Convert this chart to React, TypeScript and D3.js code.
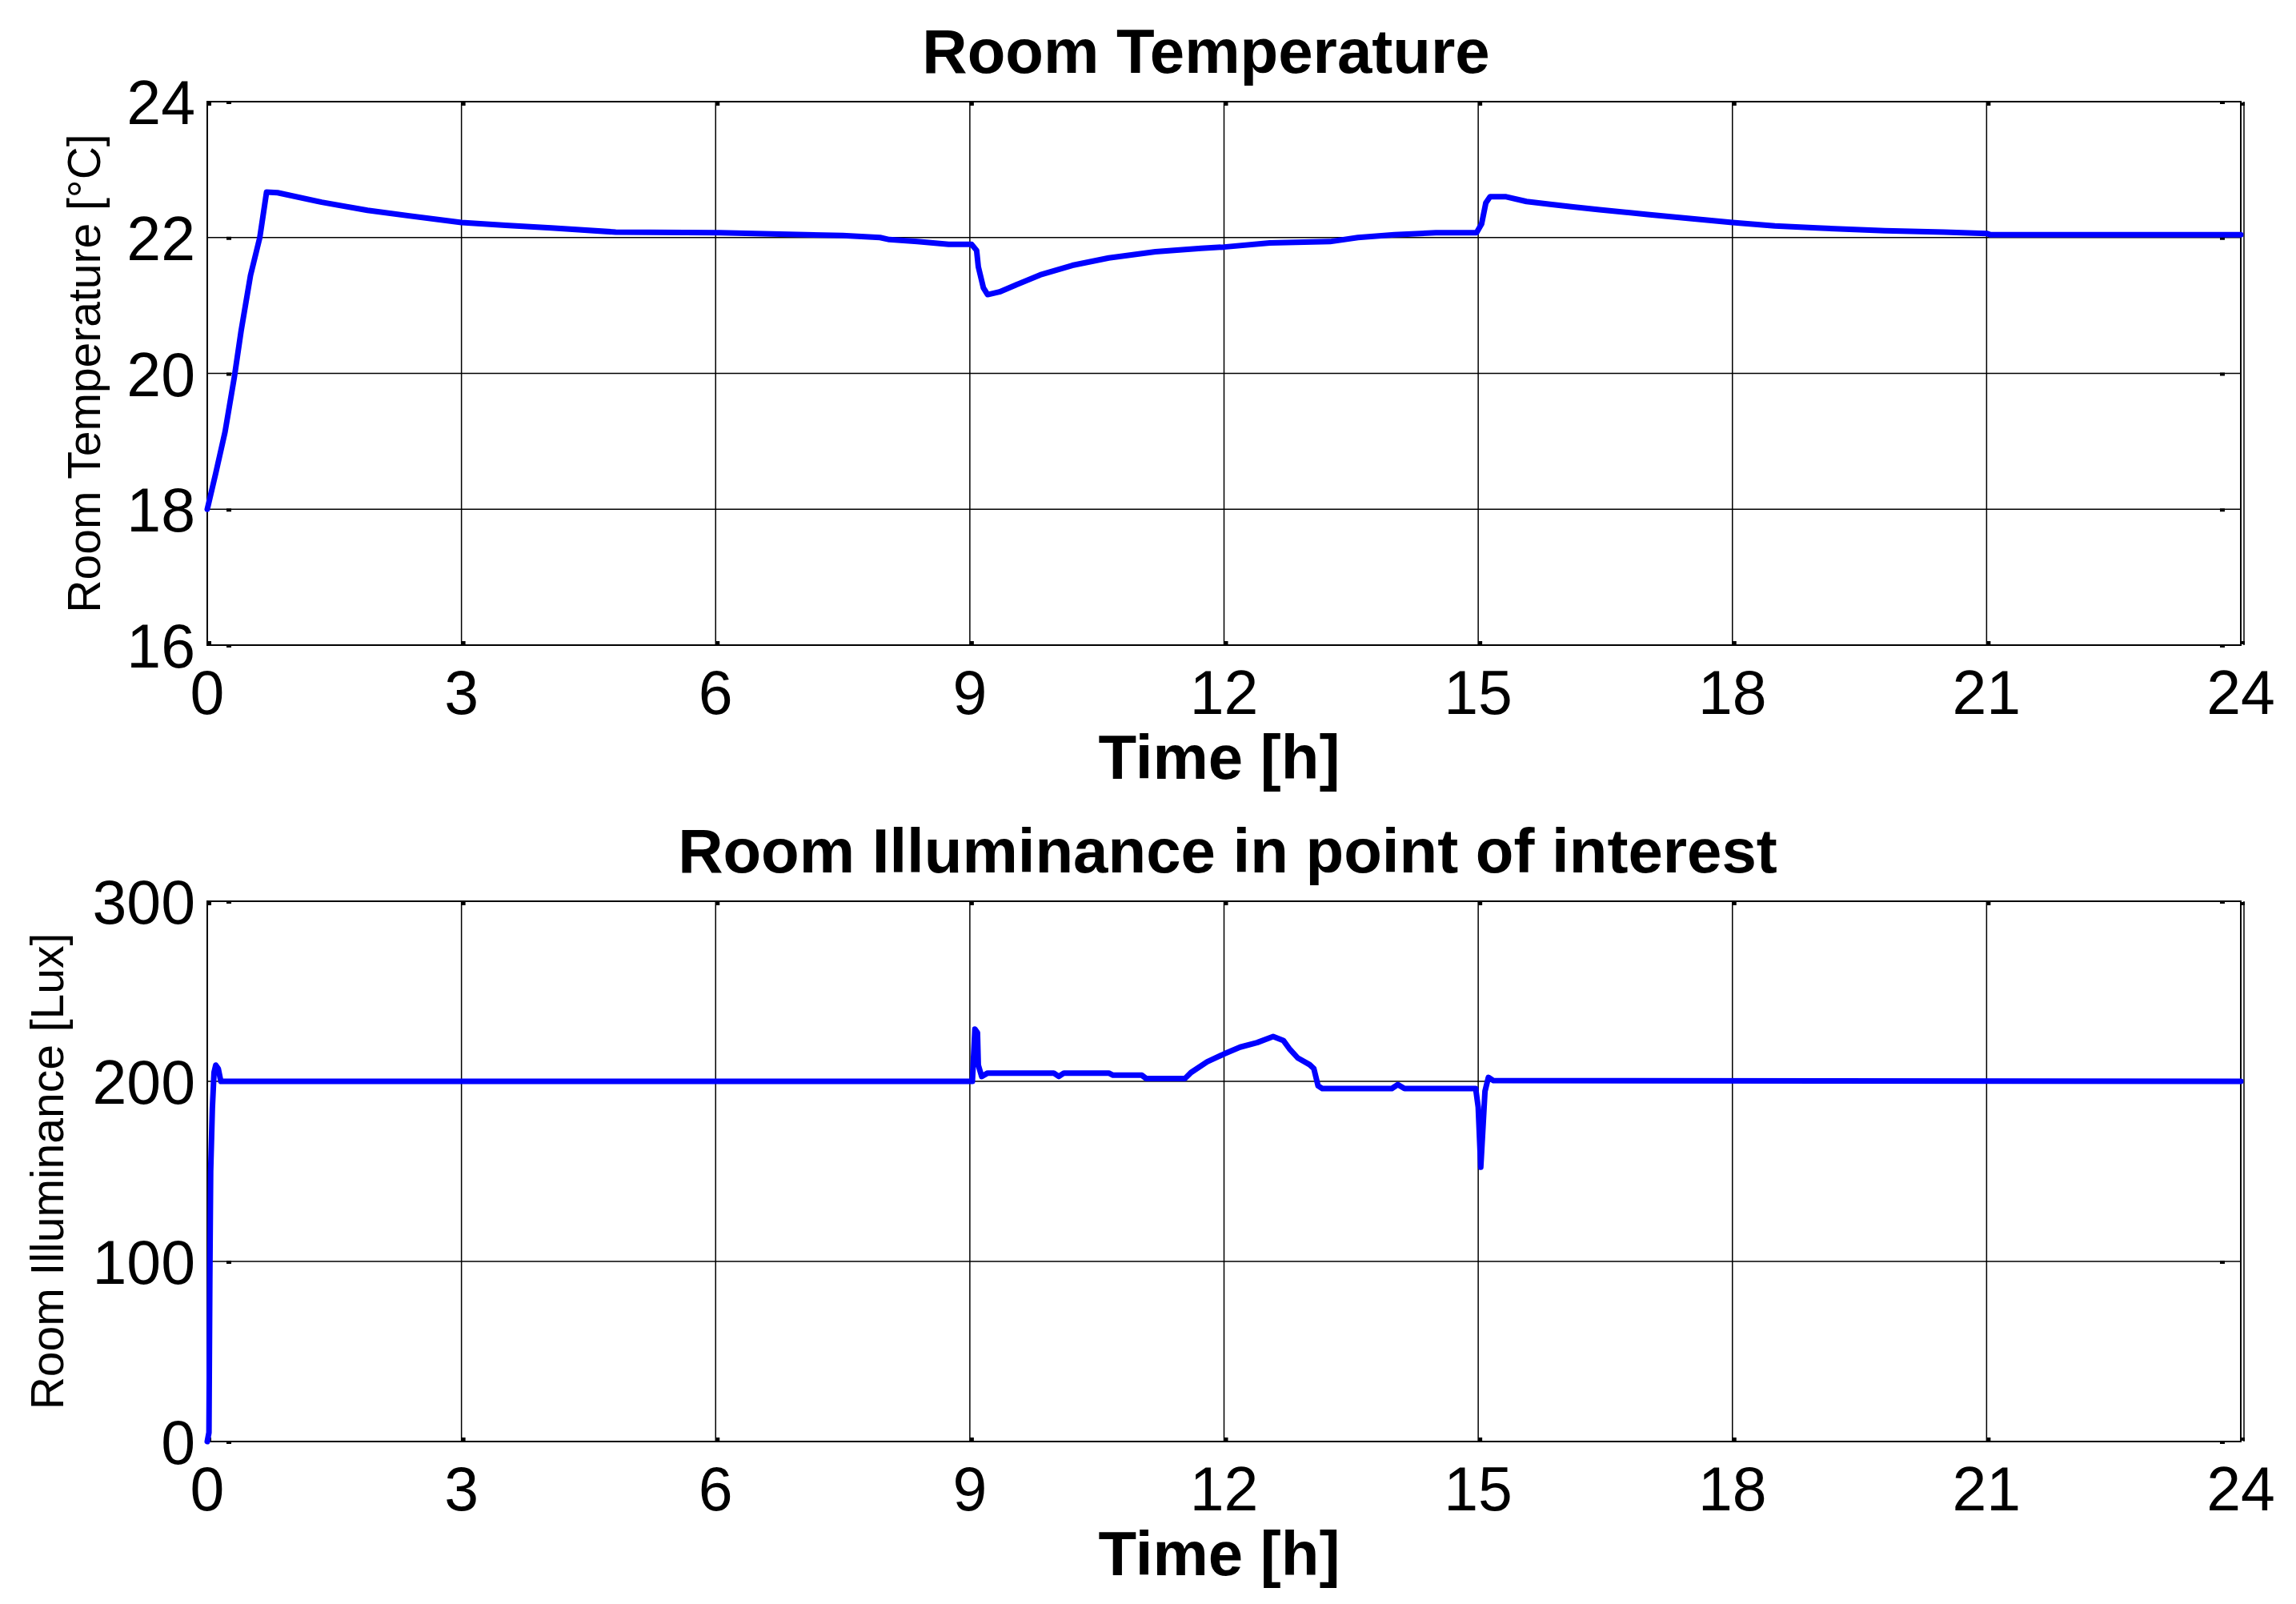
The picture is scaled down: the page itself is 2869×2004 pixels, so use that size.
import React from 'react';
import * as d3 from 'd3';

const W = 2869;
const H = 2004;

const hourTicks = [0, 3, 6, 9, 12, 15, 18, 21, 24];
const tempTicks = [16, 18, 20, 22, 24];
const luxTicks = [0, 100, 200, 300];

// room temperature trace [°C]
const tempTime = [0, 0.10, 0.21, 0.32, 0.40, 0.51, 0.62, 0.70, 0.83, 1.35, 1.89, 3.0, 3.52, 4.06, 4.82, 6.05, 7.5, 7.94,
  8.05, 8.38, 8.75, 9.02, 9.08, 9.10, 9.16, 9.21, 9.35, 9.56, 9.83, 10.21, 10.64, 11.19, 11.73, 12.0, 12.54, 13.25,
  13.58, 14.01, 14.5, 14.98, 15.04, 15.09, 15.14, 15.33, 15.57, 15.85, 16.12, 16.43, 17.0, 17.5, 18.0, 18.5, 19.0, 19.8,
  20.5, 21.0, 21.05, 24];
const tempValue = [18.0, 18.53, 19.14, 19.95, 20.63, 21.44, 22.0, 22.67, 22.66, 22.52, 22.40, 22.22, 22.18, 22.14, 22.08, 22.07, 22.03, 22.0,
  21.97, 21.94, 21.90, 21.90, 21.81, 21.57, 21.26, 21.16, 21.20, 21.31, 21.45, 21.59, 21.70, 21.79, 21.84, 21.86, 21.92, 21.94,
  22.0, 22.04, 22.07, 22.07, 22.2, 22.51, 22.60, 22.60, 22.53, 22.49, 22.45, 22.41, 22.34, 22.28, 22.22, 22.17, 22.14, 22.10,
  22.08, 22.06, 22.04, 22.04];

// illuminance in point of interest [Lux]
const luxTime = [0, 0.02, 0.03, 0.04, 0.06, 0.08, 0.10, 0.13, 0.16, 9.0, 9.03, 9.06, 9.09, 9.10, 9.14, 9.21, 9.99, 10.05,
  10.11, 10.64, 10.69, 11.03, 11.08, 11.54, 11.61, 11.8, 12.0, 12.19, 12.39, 12.58, 12.70, 12.77, 12.87, 13.01, 13.06, 13.11,
  13.16, 13.98, 14.05, 14.13, 14.97, 15.0, 15.03, 15.08, 15.12, 15.18, 24];
const luxValue = [0, 5, 90, 150, 185, 205, 209, 207, 200, 200, 200, 229, 227, 209, 202.7, 204.6, 204.6, 202.7,
  204.6, 204.6, 203.4, 203.4, 201.6, 201.6, 204.9, 210.8, 215.2, 219, 221.5, 224.9, 222.7, 218.2, 213, 209.3, 207.1, 197.5,
  196, 196, 198.2, 196, 196, 185.6, 152.3, 194.5, 202.2, 200.4, 200];

const font = 'Liberation Sans, Arial, sans-serif';

type PanelProps = {
  top: number;
  bottom: number;
  title: string;
  titleX: number;
  ylabel: string;
  ylabelX: number;
  yDomain: [number, number];
  yTicks: number[];
  xs: number[];
  ys: number[];
};

const left = 259;
const right = 2800;

function Panel(props: PanelProps) {
  const { top, bottom } = props;
  const x = d3.scaleLinear().domain([0, 24]).range([left, right]);
  const y = d3.scaleLinear().domain(props.yDomain).range([bottom, top]);
  const pts = props.xs.map((t, i) => [t, props.ys[i]] as [number, number]);
  const line = d3.line<[number, number]>()
    .x(d => x(d[0]))
    .y(d => y(d[1]));
  const midY = (top + bottom) / 2;

  return (
    <g>
      {/* grid */}
      {hourTicks.map(t => (
        <line key={'gx' + t} x1={x(t)} x2={x(t)} y1={top} y2={bottom} stroke="#000" strokeWidth={1.5} />
      ))}
      {props.yTicks.map(v => (
        <line key={'gy' + v} x1={left} x2={right} y1={y(v)} y2={y(v)} stroke="#000" strokeWidth={1.5} />
      ))}
      {/* small tick marks */}
      {hourTicks.map(t => (
        <g key={'tx' + t}>
          <rect x={x(t)} y={top + 1} width={5} height={4} fill="#000" />
          <rect x={x(t)} y={bottom - 5} width={5} height={4} fill="#000" />
        </g>
      ))}
      {props.yTicks.map(v => (
        <g key={'ty' + v}>
          <rect x={left + 24} y={y(v) - 1} width={6} height={4} fill="#000" />
          <rect x={right - 26} y={y(v) - 1} width={6} height={4} fill="#000" />
        </g>
      ))}
      <rect x={left} y={top} width={right - left} height={bottom - top} fill="none" stroke="#000" strokeWidth={2} />
      <line x1={right + 4} x2={right + 4} y1={top} y2={bottom} stroke="#000" strokeWidth={1.5} />

      <path d={line(pts) || ''} fill="none" stroke="#0000ff" strokeWidth={7} strokeLinejoin="round" strokeLinecap="round" />

      {/* tick labels */}
      {hourTicks.map(t => (
        <text key={'lx' + t} x={x(t)} y={bottom + 86} textAnchor="middle" fontSize={77} fontFamily={font}>{t}</text>
      ))}
      {props.yTicks.map(v => (
        <text key={'ly' + v} x={left - 15} y={y(v) + 28} textAnchor="end" fontSize={77} fontFamily={font}>{v}</text>
      ))}

      <text x={props.titleX} y={top - 36} textAnchor="middle" fontSize={78} fontWeight="bold" fontFamily={font}>{props.title}</text>
      <text x={(left + right) / 2 - 6} y={bottom + 167} textAnchor="middle" fontSize={78} fontWeight="bold" fontFamily={font}>Time [h]</text>
      <text transform={`translate(${props.ylabelX},${midY}) rotate(-90)`} textAnchor="middle" fontSize={57} fontFamily={font}>{props.ylabel}</text>
    </g>
  );
}

export default function App() {
  return (
    <svg width={W} height={H} style={{ position: 'absolute', left: 0, top: 0, background: '#fff' }}>
      <rect width={W} height={H} fill="#fff" />
      <Panel top={127} bottom={806} title="Room Temperature" titleX={1507}
        ylabel="Room Temperature [°C]" ylabelX={125}
        yDomain={[16, 24]} yTicks={tempTicks} xs={tempTime} ys={tempValue} />
      <Panel top={1126} bottom={1801} title="Room Illuminance in point of interest" titleX={1534}
        ylabel="Room Illuminance [Lux]" ylabelX={79}
        yDomain={[0, 300]} yTicks={luxTicks} xs={luxTime} ys={luxValue} />
    </svg>
  );
}
